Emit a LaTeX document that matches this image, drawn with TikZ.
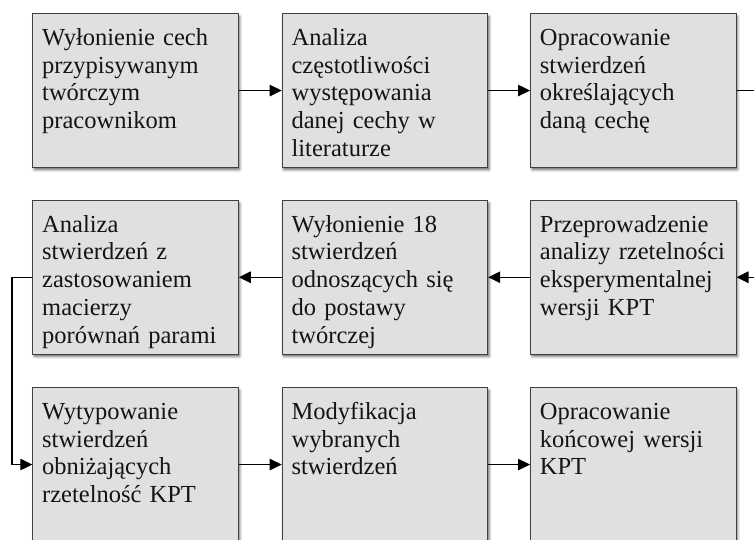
\documentclass[tikz,border=0pt]{standalone}
\usepackage{fontspec}
\setmainfont{Liberation Serif}
\usetikzlibrary{arrows.meta,shadows.blur}
\definecolor{boxfill}{RGB}{224,224,224}
\definecolor{boxline}{RGB}{64,64,64}
\definecolor{ink}{RGB}{20,20,20}
\tikzset{
  stepbox/.style={draw=boxline, line width=1pt, fill=boxfill, text=ink,
    anchor=north west, minimum width=205.5pt, minimum height=153.5pt,
    inner xsep=9.4pt, inner ysep=0pt, text width=186.7pt, align=left,
    text height=31.7pt, text depth=121.8pt,
    font=\fontsize{24.5}{27.7}\selectfont,
    blur shadow={shadow xshift=1.5pt, shadow yshift=-2.5pt, shadow blur radius=2.5pt, shadow opacity=60}},
  flow/.style={line width=1.1pt, -{Triangle[length=12pt,width=11.5pt]}}
}
\begin{document}
\begin{tikzpicture}[x=1pt,y=-1pt]
\path[use as bounding box, clip] (0,0) rectangle (754,540);
\node[stepbox] (b1) at (32.3,13.3) {Wyłonienie cech\\przypisywanym\\twórczym\\pracownikom};
\node[stepbox] (b2) at (281.7,13.3) {Analiza\\częstotliwości\\występowania\\danej cechy w\\literaturze};
\node[stepbox] (b3) at (530,13.3) {Opracowanie\\stwierdzeń\\określających\\daną cechę};
\node[stepbox] (b4) at (32.3,200) {Analiza\\stwierdzeń z\\zastosowaniem\\macierzy\\porównań parami};
\node[stepbox] (b5) at (281.7,200) {Wyłonienie 18\\stwierdzeń\\odnoszących się\\do postawy\\twórczej};
\node[stepbox] (b6) at (530,200) {Przeprowadzenie\\analizy rzetelności\\eksperymentalnej\\wersji KPT};
\node[stepbox] (b7) at (32.3,387.3) {Wytypowanie\\stwierdzeń\\obniżających\\rzetelność KPT};
\node[stepbox] (b8) at (281.7,387.3) {Modyfikacja\\wybranych\\stwierdzeń};
\node[stepbox] (b9) at (530,387.3) {Opracowanie\\końcowej wersji\\KPT};
\coordinate (r) at (775,180);
\coordinate (l) at (12,370);
\draw[flow] (b1.east) -- (b2.west);
\draw[flow] (b2.east) -- (b3.west);
\draw[flow] (b3.east) -| (r) |- (b6.east);
\draw[flow] (b6.west) -- (b5.east);
\draw[flow] (b5.west) -- (b4.east);
\draw[flow] (b4.west) -| (l) |- (b7.west);
\draw[flow] (b7.east) -- (b8.west);
\draw[flow] (b8.east) -- (b9.west);
\end{tikzpicture}
\end{document}
